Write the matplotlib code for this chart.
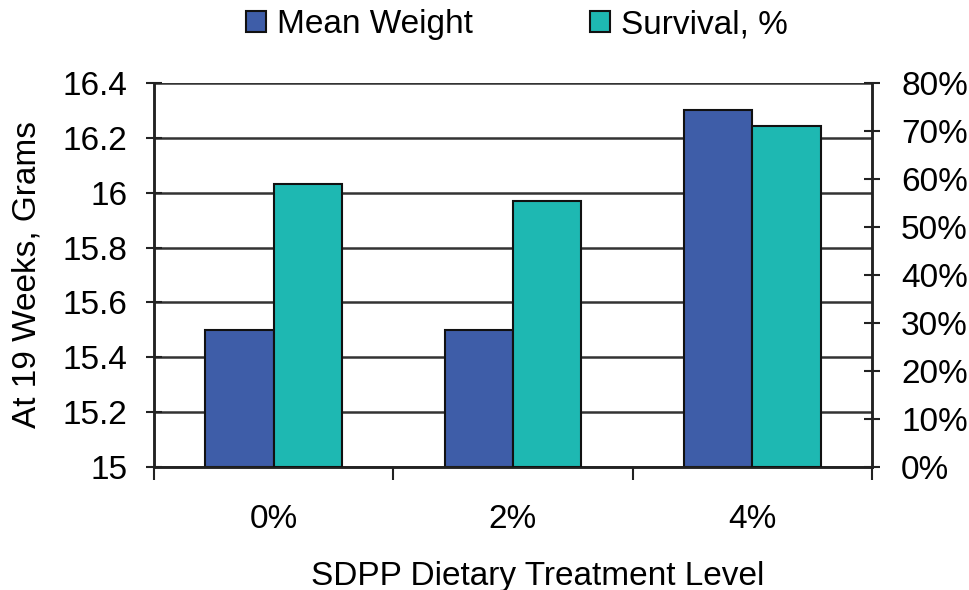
import matplotlib
matplotlib.use("Agg")
import matplotlib.pyplot as plt
from matplotlib.ticker import FuncFormatter
from matplotlib.patches import Patch
import numpy as np

categories = ["0%", "2%", "4%"]
mean_weight = [15.5, 15.5, 16.3]
survival = [0.59, 0.555, 0.71]
left_ticks = [15, 15.2, 15.4, 15.6, 15.8, 16, 16.2, 16.4]
left_tick_labels = ["15", "15.2", "15.4", "15.6", "15.8", "16", "16.2", "16.4"]
right_ticks = [0, 0.1, 0.2, 0.3, 0.4, 0.5, 0.6, 0.7, 0.8]

plt.rcParams['font.family'] = ['Liberation Sans', 'DejaVu Sans']

blue = "#3E5DA8"
teal = "#1EB8B2"
FS = 24

fig = plt.figure(figsize=(9.7, 5.9), dpi=100)
ax = fig.add_axes([154/970, 1-467/590, (872-154)/970, (467-83)/590])
ax2 = ax.twinx()

x = np.arange(len(categories))
w = 0.285
ax.bar(x - w/2, [v - 15 for v in mean_weight], w, bottom=15, color=blue,
       edgecolor="#111111", linewidth=1.5, zorder=3)
ax2.bar(x + w/2, survival, w, color=teal, edgecolor="#111111", linewidth=1.5, zorder=3)

ax.set_xlim(-0.5, 2.5)
ax.set_ylim(15, 16.4)
ax2.set_ylim(0, 0.8)

ax.set_yticks(left_ticks)
ax.set_yticklabels(left_tick_labels)
ax2.set_yticks(right_ticks)
ax2.yaxis.set_major_formatter(FuncFormatter(lambda v, p: f"{int(round(v*100))}%"))

for t in left_ticks:
    ax.axhline(t, color="#333333", linewidth=1.8, zorder=1)

ax.set_xticks(x)
ax.set_xticklabels(categories)
ax.set_xticks([-0.5, 0.5, 1.5, 2.5], minor=True)
ax.tick_params(axis='x', which='major', length=0, pad=27, labelsize=FS)
ax.tick_params(axis='x', which='minor', length=9, width=1.5, direction='out', color="#222222")

ax.tick_params(axis='y', length=12, width=1.5, direction='inout', labelsize=FS, pad=13, color="#222222")
ax2.tick_params(axis='y', length=12, width=1.5, direction='inout', labelsize=FS, pad=15, color="#222222")

for a in (ax, ax2):
    a.spines['top'].set_visible(False)
    for s in ('left', 'right', 'bottom'):
        a.spines[s].set_linewidth(1.8)
        a.spines[s].set_color("#222222")

ax.set_ylabel("At 19 Weeks, Grams", fontsize=FS)
ax.yaxis.set_label_coords((27-154)/718, 0.5)
ax.yaxis.label.set_va('center')
ax.set_xlabel("SDPP Dietary Treatment Level", fontsize=FS)
ax.xaxis.set_label_coords((538-154)/718, (467-576)/384)
ax.xaxis.label.set_va('center')

handles = [Patch(facecolor=blue, edgecolor="#111111", linewidth=1.5),
           Patch(facecolor=teal, edgecolor="#111111", linewidth=1.5)]
fig.legend(handles, ["Mean Weight", "Survival, %"], loc='center', bbox_to_anchor=(517/970, 1-25/590),
           ncol=2, frameon=False, fontsize=FS, handlelength=0.6, handleheight=0.6,
           handletextpad=0.33, columnspacing=3.5, borderpad=0, borderaxespad=0)

fig.savefig("out.png", dpi=100)
